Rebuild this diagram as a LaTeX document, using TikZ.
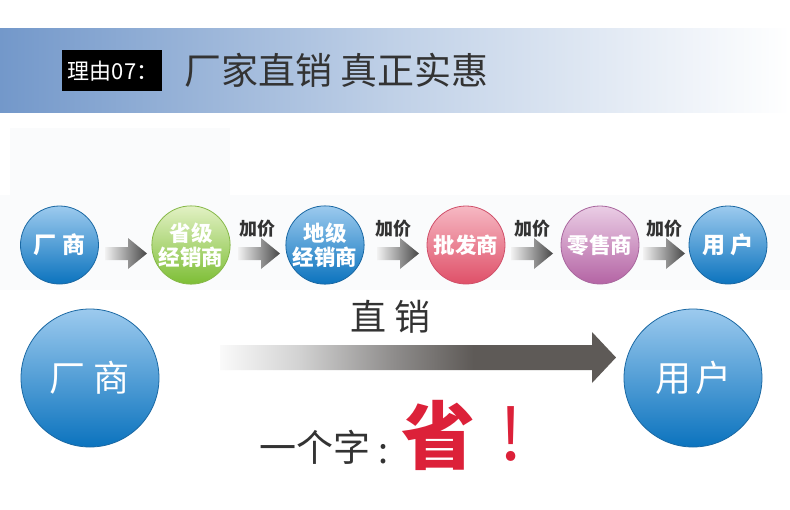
\documentclass[tikz,border=0pt]{standalone}
\usepackage{fontspec}
\setmainfont{Noto Sans CJK SC}
\usetikzlibrary{calc}
\definecolor{bandblue}{HTML}{7398CA}
\definecolor{titlegray}{HTML}{333333}
\definecolor{blueTop}{HTML}{9CCAEE}
\definecolor{blueBot}{HTML}{0B73BE}
\definecolor{blueEdge}{HTML}{1A68A3}
\definecolor{greenTop}{HTML}{E2F1C4}
\definecolor{greenBot}{HTML}{7DBE35}
\definecolor{greenEdge}{HTML}{86B848}
\definecolor{pinkTop}{HTML}{F6B8C3}
\definecolor{pinkBot}{HTML}{DF5068}
\definecolor{pinkEdge}{HTML}{D0506A}
\definecolor{purpTop}{HTML}{EACDE5}
\definecolor{purpBot}{HTML}{B464A4}
\definecolor{purpEdge}{HTML}{A9679E}
\definecolor{arrLight}{HTML}{F2F2F2}
\definecolor{arrDark}{HTML}{474747}
\definecolor{bigA}{HTML}{FAFAFA}
\definecolor{bigB}{HTML}{D2D2D2}
\definecolor{bigC}{HTML}{8E8C8B}
\definecolor{bigD}{HTML}{5E5A57}
\definecolor{shengred}{HTML}{DC2139}
\definecolor{faint}{HTML}{FAFBFC}
\pgfdeclarehorizontalshading{bigarrowshade}{100bp}{color(0bp)=(bigA); color(25bp)=(bigA); color(35bp)=(bigB); color(47bp)=(bigC); color(57bp)=(bigD); color(100bp)=(bigD)}
\tikzset{
  ball/.style={circle, minimum size=78pt, inner sep=0pt, line width=0.8pt, text=white, font=\fontsize{23}{24}\selectfont\bfseries, align=center},
  bigball/.style={circle, minimum size=138pt, inner sep=0pt, line width=0.8pt, text=white, font=\fontsize{36}{40}\selectfont, top color=blueTop, bottom color=blueBot, draw=blueEdge},
  blueball/.style={ball, top color=blueTop, bottom color=blueBot, draw=blueEdge},
  twoline/.style={font=\fontsize{21.5}{24}\selectfont\bfseries},
  addprice/.style={text=titlegray, font=\fontsize{18}{19}\selectfont\bfseries, inner sep=0pt},
  smallarrow/.style={left color=arrLight, right color=arrDark, draw=none}
}
\newcommand{\flowarrow}[1]{%
  \shade[smallarrow] (#1,247) -- ++(23,0) -- ++(0,-9) -- ++(19,15.5) -- ++(-19,15.5) -- ++(0,-9) -- ++(-23,0) -- cycle;}
\begin{document}
\begin{tikzpicture}[x=1pt,y=-1pt]
\useasboundingbox (0,0) rectangle (790,509);
\fill[white] (0,0) rectangle (790,509);
\fill[faint] (10,128) rectangle (230,195);
\fill[faint] (0,195) rectangle (790,290);
% header band
\shade[left color=bandblue, right color=white, middle color=bandblue!45!white] (0,28) rectangle (790,112);
\fill[black] (62,50) rectangle (162,91);
\node[text=white, font=\fontsize{22}{24}\selectfont, inner sep=0pt] (tag) at (113,71) {理由07：};
\node[text=titlegray, font=\fontsize{37}{40}\selectfont, anchor=west, inner sep=0pt] (title) at (184,70) {厂家直销 真正实惠};
% top flow
\node[blueball] (n1) at (59.5,245) {厂 商};
\node[ball, twoline, top color=greenTop, bottom color=greenBot, draw=greenEdge] (n2) at (191,245) {省级\\经销商};
\node[blueball, twoline] (n3) at (325,245) {地级\\经销商};
\node[ball, twoline, top color=pinkTop, bottom color=pinkBot, draw=pinkEdge] (n4) at (466,245) {批发商};
\node[ball, twoline, top color=purpTop, bottom color=purpBot, draw=purpEdge] (n5) at (600,245) {零售商};
\node[blueball] (n6) at (728,245) {用 户};
\flowarrow{105}
\flowarrow{238}
\flowarrow{377}
\flowarrow{511}
\flowarrow{643}
\node[addprice] (p1) at (257,229) {加价};
\node[addprice] (p2) at (393,229) {加价};
\node[addprice] (p3) at (532,229) {加价};
\node[addprice] (p4) at (664,229) {加价};
% bottom direct sale
\node[bigball] (m) at (90,378) {厂 商};
\node[bigball] (u) at (693,378) {用\hspace{4pt}户};
\shade[shading=bigarrowshade] (220,345) -- (592,345) -- (592,332) -- (616,357.5) -- (592,383) -- (592,370) -- (220,370) -- cycle;
\node[text=titlegray, font=\fontsize{36}{40}\selectfont] (zx) at (391,317) {直 销};
\node[text=titlegray, font=\fontsize{37}{40}\selectfont, anchor=west, inner sep=0pt] (yz) at (259,447) {一个字};
\node[text=titlegray, font=\fontsize{36}{40}\selectfont, anchor=base, inner sep=0pt] (colon) at (383,463) {:};
\node[text=shengred, font=\fontsize{74}{76}\selectfont\bfseries, inner sep=0pt] (sheng) at (438.5,435.5) {省};
\node[text=shengred, font=\fontsize{72}{76}\selectfont, anchor=base, inner sep=0pt] (excl) at (511,460) {!};
\end{tikzpicture}
\end{document}
